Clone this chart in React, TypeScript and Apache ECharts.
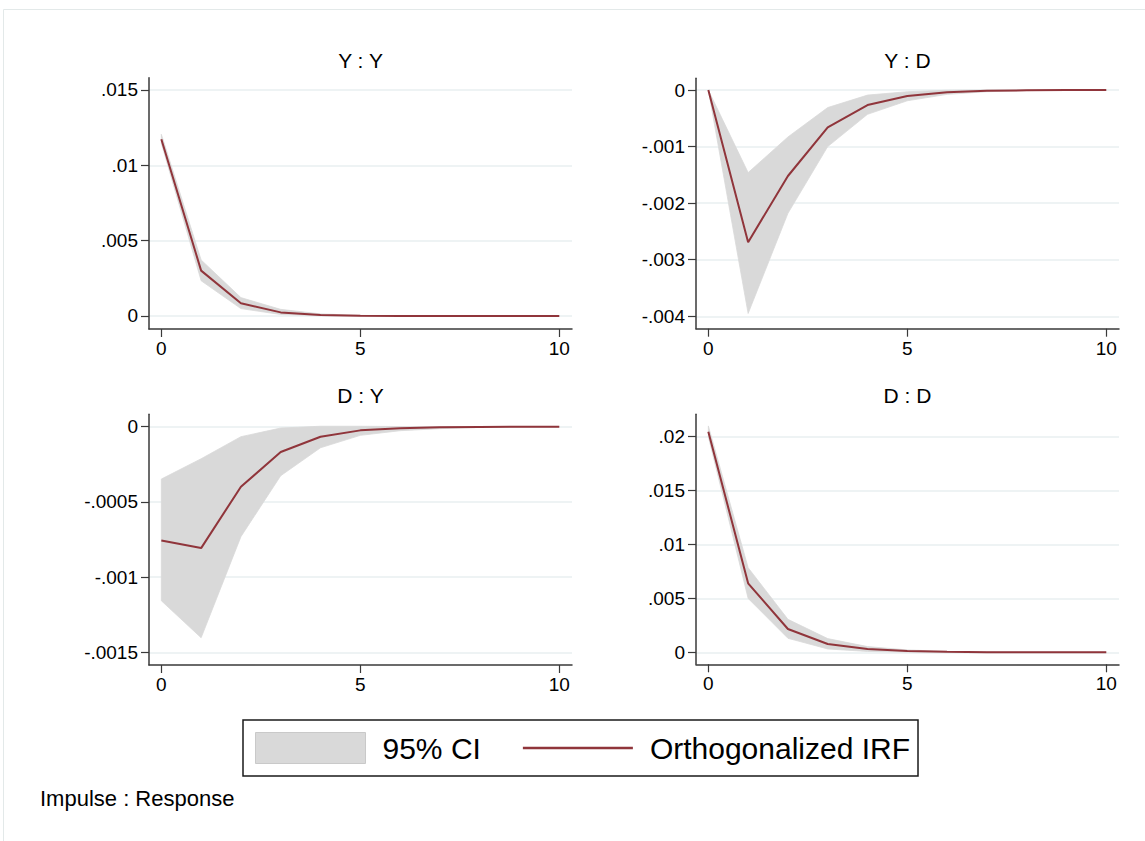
import React, { useEffect, useRef } from 'react';
import * as echarts from 'echarts';

const steps = [0, 1, 2, 3, 4, 5, 6, 7, 8, 9, 10];

// Impulse : Response = Y : Y
const yyIrf = [0.01173, 0.00301, 0.00084, 0.00024, 0.00007, 0.00002, 0.000005, 0.000001, 0, 0, 0];
const yyLo = [0.01146, 0.00234, 0.00049, 0.0001, 0.00002, 0.000004, 0.000001, 0, 0, 0, 0];
const yyHi = [0.01206, 0.00372, 0.00122, 0.00044, 0.00014, 0.00004, 0.00001, 0.000003, 0.000001, 0, 0];

// Y : D
const ydIrf = [0, -0.00269, -0.00152, -0.00066, -0.000265, -0.000106, -0.00004, -0.000015, -0.000006, -0.000002, -0.000001];
const ydLo = [0, -0.00395, -0.00218, -0.001, -0.00043, -0.00019, -0.000077, -0.00003, -0.00001, -0.000004, -0.000001];
const ydHi = [0, -0.00146, -0.00083, -0.00031, -0.00009, -0.00003, -0.000005, 0, 0, 0, 0];

// D : Y
const dyIrf = [-0.000756, -0.000807, -0.000399, -0.000168, -0.0000665, -0.0000244, -0.0000111, -0.000004, -0.0000015, -0.0000005, -0.0000002];
const dyLo = [-0.001157, -0.001403, -0.000731, -0.000326, -0.00014, -0.0000576, -0.0000266, -0.000013, -0.000005, -0.000002, -0.000001];
const dyHi = [-0.000348, -0.000213, -0.0000665, -0.0000089, 0.000003, 0.000003, 0.000001, 0, 0, 0, 0];

// D : D
const ddIrf = [0.02046, 0.0064, 0.00216, 0.00077, 0.00031, 0.00012, 0.00004, 0.00001, 0.000004, 0.000001, 0];
const ddLo = [0.02, 0.005, 0.0013, 0.00031, 0.00008, 0.00002, 0.000005, 0.000001, 0, 0, 0];
const ddHi = [0.021, 0.00785, 0.00306, 0.00127, 0.00053, 0.00022, 0.00008, 0.00003, 0.00001, 0.000003, 0.000001];

const panelTitles = ['Y : Y', 'Y : D', 'D : Y', 'D : D'];
const xTicks = [0, 5, 10];
const yTicksYY = [0, 0.005, 0.01, 0.015];
const yTicksYD = [-0.004, -0.003, -0.002, -0.001, 0];
const yTicksDY = [-0.0015, -0.001, -0.0005, 0];
const yTicksDD = [0, 0.005, 0.01, 0.015, 0.02];

const ciName = '95% CI';
const irfName = 'Orthogonalized IRF';
const noteText = 'Impulse : Response';

const FONT = '"Liberation Sans", Arial, Helvetica, sans-serif';
const LINE_COLOR = '#90353b';
const CI_COLOR = '#d9d9d9';
const AXIS_COLOR = '#3a3a3a';
const GRID_COLOR = '#e9eff1';
const LINE_ICON = 'path://M0,0M110,31M0,14.3L110,14.3L110,16.7L0,16.7Z';

const panels = [
  { irf: yyIrf, lo: yyLo, hi: yyHi, ticks: yTicksYY, min: -0.000863, max: 0.015816, grid: { left: 149, top: 77.7, width: 423, height: 251.3 }, title: [360.5, 60.5] },
  { irf: ydIrf, lo: ydLo, hi: ydHi, ticks: yTicksYD, min: -0.004219, max: 0.000207, grid: { left: 696, top: 78.3, width: 423, height: 250.4 }, title: [907.5, 60.5] },
  { irf: dyIrf, lo: dyLo, hi: dyHi, ticks: yTicksDY, min: -0.001584, max: 0.0000824, grid: { left: 149, top: 414.3, width: 423, height: 250.7 }, title: [360.5, 395] },
  { irf: ddIrf, lo: ddLo, hi: ddHi, ticks: yTicksDD, min: -0.001113, max: 0.022078, grid: { left: 696, top: 414.3, width: 423, height: 250 }, title: [907.5, 395] },
];

function fmt(v: number): string {
  if (Math.abs(v) < 1e-12) return '0';
  const s = parseFloat(v.toPrecision(6)).toString();
  return s.replace(/^(-?)0\./, '$1.');
}

export default function App() {
  const ref = useRef<HTMLDivElement>(null);

  useEffect(() => {
    if (!ref.current) return;
    const chart = echarts.init(ref.current, undefined, { renderer: 'svg' });

    const grids = panels.map((p) => ({ ...p.grid, containLabel: false }));
    const xAxes = panels.map((_, i) => ({
      type: 'value',
      gridIndex: i,
      min: -0.31,
      max: 10.32,
      axisLine: { show: true, onZero: false, lineStyle: { color: AXIS_COLOR, width: 1.5 } },
      axisTick: { show: true, length: 8, customValues: xTicks, lineStyle: { color: AXIS_COLOR, width: 1.2 } },
      axisLabel: { customValues: xTicks, fontSize: 19, color: '#000', fontFamily: FONT, margin: 10, formatter: (v: number) => fmt(v) },
      splitLine: { show: false },
    }));
    const yAxes = panels.map((p, i) => ({
      type: 'value',
      gridIndex: i,
      min: p.min,
      max: p.max,
      axisLine: { show: true, onZero: false, lineStyle: { color: AXIS_COLOR, width: 1.5 } },
      axisTick: { show: true, length: 8, customValues: p.ticks, lineStyle: { color: AXIS_COLOR, width: 1.2 } },
      axisLabel: { customValues: p.ticks, fontSize: 19, color: '#000', fontFamily: FONT, margin: 11, formatter: (v: number) => fmt(v) },
      splitLine: { show: true, lineStyle: { color: GRID_COLOR, width: 1.5 } },
    }));

    const series: any[] = [];
    panels.forEach((p, i) => {
      series.push({
        type: 'custom',
        name: ciName,
        xAxisIndex: i,
        yAxisIndex: i,
        silent: true,
        itemStyle: { color: CI_COLOR },
        encode: { x: 0, y: [1, 2] },
        data: steps.map((x, k) => [x, p.lo[k], p.hi[k]]),
        renderItem: (params: any, api: any) => {
          if (params.dataIndex !== 0) return null;
          const upper = steps.map((x, k) => api.coord([x, p.hi[k]]));
          const lower = steps.map((x, k) => api.coord([x, p.lo[k]])).reverse();
          return {
            type: 'polygon',
            shape: { points: upper.concat(lower) },
            style: { fill: CI_COLOR, stroke: CI_COLOR, lineWidth: 0.8 },
          };
        },
        z: 1,
      });
      series.push({
        type: 'line',
        name: irfName,
        xAxisIndex: i,
        yAxisIndex: i,
        symbol: 'none',
        silent: true,
        lineStyle: { color: LINE_COLOR, width: 2 },
        itemStyle: { color: LINE_COLOR },
        data: steps.map((x, k) => [x, p.irf[k]]),
        z: 3,
      });
    });

    const graphics: any[] = [
      { type: 'rect', silent: true, z: -10, shape: { x: 3.5, y: 9.5, width: 1160, height: 860 }, style: { fill: 'none', stroke: '#e3e9e9', lineWidth: 1 } },
      ...panels.map((p, i) => ({
        type: 'text',
        x: p.title[0],
        y: p.title[1],
        style: { text: panelTitles[i], fontSize: 21, fontFamily: FONT, fill: '#000', align: 'center', verticalAlign: 'middle' },
      })),
      { type: 'text', x: 40, y: 798, style: { text: noteText, fontSize: 22, fontFamily: FONT, fill: '#000', align: 'left', verticalAlign: 'middle' } },
    ];

    chart.setOption({
      animation: false,
      backgroundColor: '#ffffff',
      grid: grids,
      xAxis: xAxes,
      yAxis: yAxes,
      series,
      legend: {
        data: [
          { name: ciName, icon: 'rect', itemStyle: { color: CI_COLOR, borderColor: '#c9c9c9', borderWidth: 1 } },
          { name: irfName, icon: LINE_ICON, itemStyle: { color: LINE_COLOR, borderWidth: 0 } },
        ],
        left: 243,
        top: 720,
        orient: 'horizontal',
        itemWidth: 110,
        itemHeight: 31,
        itemGap: 42,
        padding: [12, 8, 12, 12],
        borderColor: '#1a1a1a',
        borderWidth: 1.5,
        selectedMode: false,
        textStyle: { fontSize: 30, color: '#000', fontFamily: FONT, padding: [0, 0, 0, 12] },
      },
      graphic: graphics,
    });

    return () => chart.dispose();
  }, []);

  return <div ref={ref} style={{ position: 'fixed', left: 0, top: 0, width: 1145, height: 841 }} />;
}
